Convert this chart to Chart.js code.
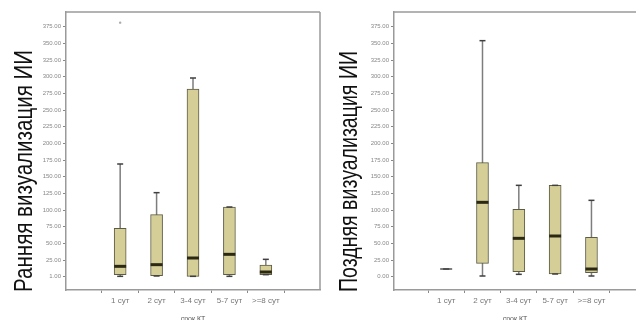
<!DOCTYPE html>
<html>
<head>
<meta charset="utf-8">
<script src="https://cdn.jsdelivr.net/npm/chart.js@4.4.1/dist/chart.umd.min.js"></script>
<style>
html, body { margin: 0; padding: 0; background: #fff; overflow: hidden; }
#wrap { position: relative; width: 636px; height: 320px; overflow: hidden; }
#early-chart { position: absolute; left: 0; top: 0; }
#late-chart { position: absolute; left: 324px; top: 0; }
</style>
</head>
<body>
<div id="wrap">
  <canvas id="early-chart" width="324" height="323"></canvas>
  <canvas id="late-chart" width="312" height="323"></canvas>
</div>
<script>
const categories = ['1 сут', '2 сут', '3-4 сут', '5-7 сут', '>=8 сут'];
const tickValues = [0, 25, 50, 75, 100, 125, 150, 175, 200, 225, 250, 275, 300, 325, 350, 375];
const earlyTickLabels = ['1.00', '25.00', '50.00', '75.00', '100.00', '125.00', '150.00', '175.00',
    '200.00', '225.00', '250.00', '275.00', '300.00', '325.00', '350.00', '375.00'];
const lateTickLabels = ['0.00', '25.00', '50.00', '75.00', '100.00', '125.00', '150.00', '175.00',
    '200.00', '225.00', '250.00', '275.00', '300.00', '325.00', '350.00', '375.00'];

// Ранняя визуализация
const earlyMin = [0.5, 1, 0.5, 0.5, 3];
const earlyQ1 = [3, 1.5, 0.5, 3, 3];
const earlyMedian = [15.5, 18, 28, 33.5, 7];
const earlyQ3 = [72.5, 93, 281.5, 104.5, 17.5];
const earlyMax = [169, 126, 298, 104.5, 26];
const earlyOutliers = [{ x: 0, y: 381 }];

// Поздняя визуализация
const lateMin = [11.5, 1, 3.5, 4, 1];
const lateQ1 = [11.5, 20, 7.5, 4, 6];
const lateMedian = [11.5, 111.5, 57.5, 61, 11.5];
const lateQ3 = [11.5, 171, 101, 137, 59];
const lateMax = [11.5, 354, 137, 137, 114.5];

const family = "'Liberation Sans', Arial, sans-serif";

function makeBoxPlugin(stats) {
    return {
        id: 'boxPlot',
        beforeDatasetsDraw(chart) {
            const { ctx, chartArea: a, scales: { x, y } } = chart;
            ctx.save();
            ctx.strokeStyle = '#9a9a9a';
            ctx.lineWidth = 1.5;
            ctx.beginPath();
            ctx.moveTo(a.left, a.top);
            ctx.lineTo(a.right, a.top);
            if (stats.frameRight) {
                ctx.moveTo(a.right, a.top);
                ctx.lineTo(a.right, a.bottom);
            }
            ctx.stroke();

            ctx.strokeStyle = '#7d7d7d';
            ctx.lineWidth = 1.5;
            stats.min.forEach((lo, i) => {
                const px = x.getPixelForValue(i);
                ctx.beginPath();
                ctx.moveTo(px, y.getPixelForValue(lo));
                ctx.lineTo(px, y.getPixelForValue(stats.max[i]));
                ctx.stroke();
            });
            ctx.restore();
        },
        afterDatasetsDraw(chart) {
            const { ctx, scales: { x, y } } = chart;
            ctx.save();
            stats.median.forEach((m, i) => {
                const px = x.getPixelForValue(i);
                // caps
                ctx.strokeStyle = '#3f3f3f';
                ctx.lineWidth = 1.5;
                [stats.min[i], stats.max[i]].forEach(v => {
                    const py = y.getPixelForValue(v);
                    ctx.beginPath();
                    ctx.moveTo(px - 3, py);
                    ctx.lineTo(px + 3, py);
                    ctx.stroke();
                });
                // median
                const py = y.getPixelForValue(m);
                const flat = stats.q1[i] === stats.q3[i];
                ctx.strokeStyle = flat ? '#555' : '#2b2914';
                ctx.lineWidth = flat ? 1.5 : 3;
                ctx.beginPath();
                ctx.moveTo(px - 6, py);
                ctx.lineTo(px + 6, py);
                ctx.stroke();
            });
            ctx.restore();
        },
        afterDraw(chart) {
            // narrow rotated axis title, like the SPSS original
            const ctx = chart.ctx;
            ctx.save();
            ctx.translate(stats.titleX, chart.chartArea.bottom + 2);
            ctx.rotate(-Math.PI / 2);
            ctx.font = '26px ' + family;
            const sx = stats.titleLength / ctx.measureText(stats.title).width;
            ctx.scale(sx, 1);
            ctx.fillStyle = '#111';
            ctx.textAlign = 'left';
            ctx.textBaseline = 'alphabetic';
            ctx.fillText(stats.title, 0, 0);
            ctx.restore();
        }
    };
}

function boxData(q1, q3) {
    return q1.map((v, i) => ({ x: i, y: [v, q3[i]] }));
}

function makeChart(canvas, cfg) {
    return new Chart(canvas.getContext('2d'), {
        type: 'bar',
        data: {
            datasets: [{
                data: boxData(cfg.q1, cfg.q3),
                backgroundColor: '#d5cf97',
                borderColor: '#5c5b45',
                borderWidth: 1,
                borderSkipped: false,
                barThickness: 12
            }, {
                type: 'scatter',
                data: cfg.outliers,
                pointRadius: 1.2,
                backgroundColor: '#aaa',
                borderWidth: 0
            }]
        },
        options: {
            responsive: false,
            animation: false,
            layout: { padding: { top: 12, right: cfg.padRight, bottom: 0, left: 0 } },
            plugins: { legend: { display: false }, tooltip: { enabled: false } },
            scales: {
                x: {
                    type: 'linear',
                    min: cfg.xMin,
                    max: cfg.xMax,
                    afterBuildTicks: s => { s.ticks = categories.map((c, i) => ({ value: i })); },
                    afterFit: s => { s.height = 33; },
                    ticks: {
                        autoSkip: false,
                        maxRotation: 0,
                        callback: (v, i) => categories[i],
                        font: { size: 8, family },
                        color: '#777',
                        padding: 3
                    },
                    grid: { drawOnChartArea: false, tickLength: 3, color: '#888' },
                    border: { color: '#9a9a9a', width: 1.5 },
                    title: {
                        display: true,
                        text: 'срок КТ',
                        font: { size: 7, family },
                        color: '#555',
                        padding: 0
                    }
                },
                y: {
                    min: -20,
                    max: 397,
                    afterBuildTicks: s => { s.ticks = tickValues.map(v => ({ value: v })); },
                    afterFit: s => { s.width = cfg.axisWidth; },
                    ticks: {
                        autoSkip: false,
                        callback: (v, i) => cfg.tickLabels[i],
                        font: { size: 6, family },
                        color: '#888',
                        padding: 2
                    },
                    grid: { drawOnChartArea: false, tickLength: 3, color: '#888' },
                    border: { color: '#9a9a9a', width: 1.5 }
                }
            }
        },
        plugins: [makeBoxPlugin(cfg)]
    });
}

makeChart(document.querySelector('#early-chart'), {
    title: 'Ранняя визуализация ИИ',
    titleX: 32, titleLength: 242,
    tickLabels: earlyTickLabels,
    min: earlyMin, q1: earlyQ1, median: earlyMedian, q3: earlyQ3, max: earlyMax,
    outliers: earlyOutliers,
    xMin: -0.79, xMax: 4.79,
    axisWidth: 66, padRight: 2, frameRight: true
});

makeChart(document.querySelector('#late-chart'), {
    title: 'Поздняя визуализация ИИ',
    titleX: 33, titleLength: 241,
    tickLabels: lateTickLabels,
    min: lateMin, q1: lateQ1, median: lateMedian, q3: lateQ3, max: lateMax,
    outliers: [],
    xMin: -0.77, xMax: 4.56,
    axisWidth: 70, padRight: 0, frameRight: false
});
</script>
</body>
</html>
